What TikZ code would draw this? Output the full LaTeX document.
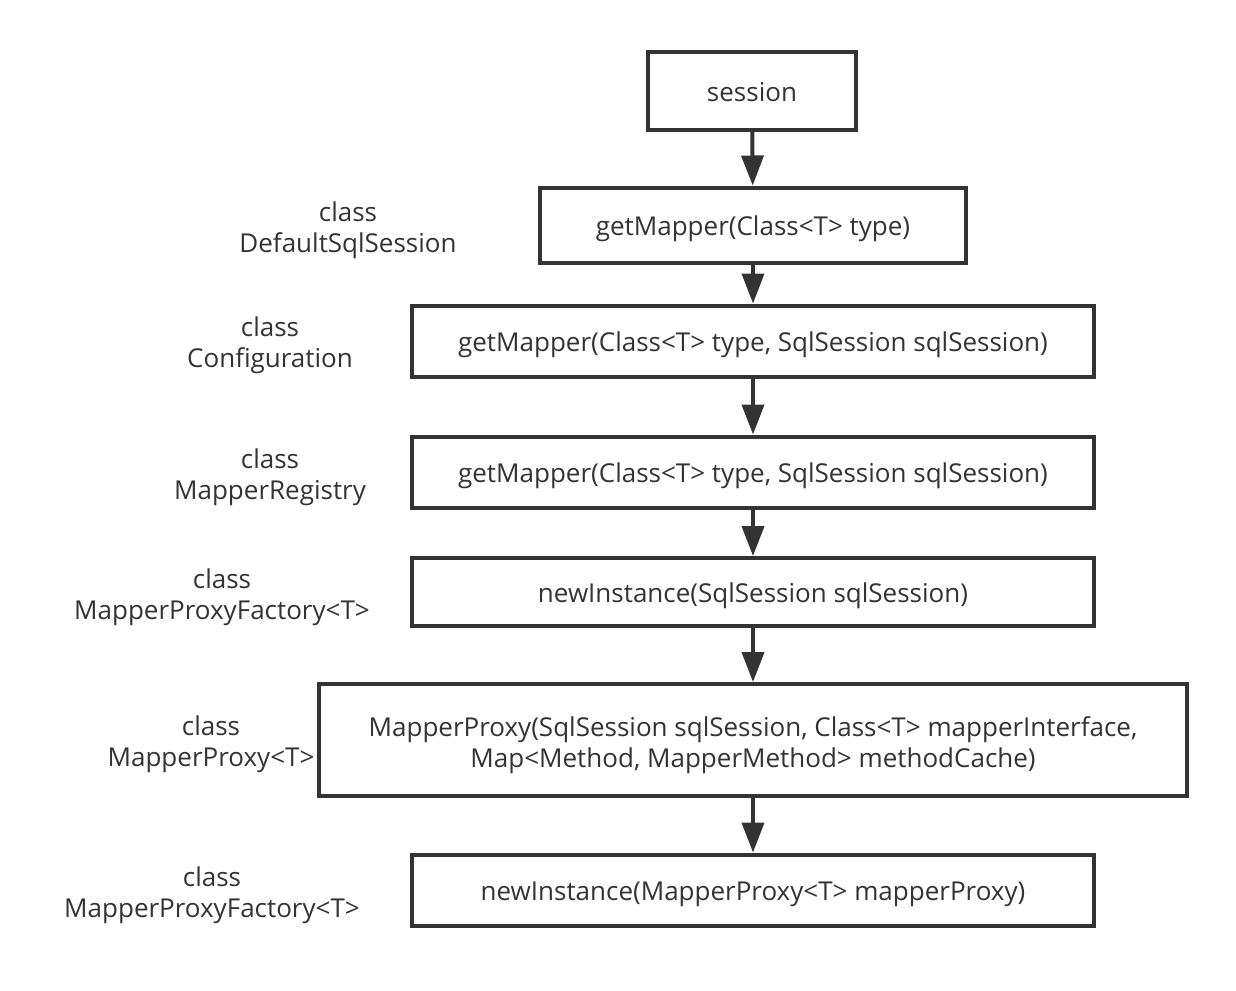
\documentclass[tikz,border=0pt]{standalone}
\usepackage{fontspec}
\setmainfont{Open Sans}
\usetikzlibrary{positioning,arrows.meta}
\definecolor{ink}{HTML}{333333}

\begin{document}
\begin{tikzpicture}[
  x=1pt, y=-1pt,
  every node/.style={font=\fontsize{26}{31}\selectfont, text=ink},
  call/.style={draw=ink, line width=4pt, inner sep=0pt, align=center,
    text height=24pt, text depth=4pt},
  owner/.style={align=center},
  flow/.style={draw=ink, line width=4pt, -{Triangle[length=30pt,width=22pt]}}
  ]
  \useasboundingbox (0,0) rectangle (1236,990);

  % call chain
  \node (sess) [call, minimum width=208pt, minimum height=78pt] at (752,91) {session};
  \node (gm1) [call, minimum width=426pt, minimum height=75pt] at (753,225) {getMapper(Class<T> type)};
  \node (gm2) [call, minimum width=682pt, minimum height=71pt] at (753,341) {getMapper(Class<T> type, SqlSession sqlSession)};
  \node (gm3) [call, minimum width=682pt, minimum height=71pt] at (753,472) {getMapper(Class<T> type, SqlSession sqlSession)};
  \node (ni1) [call, minimum width=682pt, minimum height=68pt] at (753,592) {newInstance(SqlSession sqlSession)};
  \node (mp) [call, text height=, text depth=, inner ysep=0pt, minimum width=868pt, minimum height=112pt] at (753,740)
     {\rule{0pt}{5pt}\\[-5pt]MapperProxy(SqlSession sqlSession, Class<T> mapperInterface,\\Map<Method, MapperMethod> methodCache)};
  \node (ni2) [call, minimum width=682pt, minimum height=71pt] at (753,890) {newInstance(MapperProxy<T> mapperProxy)};

  % owning classes
  \node (c1) [owner] at (348,230) {class\\DefaultSqlSession};
  \node (c2) [owner] at (270,345) {class\\Configuration};
  \node (c3) [owner] at (270,477) {class\\MapperRegistry};
  \node (c4) [owner] at (222,597) {class\\MapperProxyFactory<T>};
  \node (c5) [owner] at (211,744) {class\\MapperProxy<T>};
  \node (c6) [owner] at (212,895) {class\\MapperProxyFactory<T>};

  \draw [flow] (sess) -- (gm1);
  \draw [flow] (gm1) -- (gm2);
  \draw [flow] (gm2) -- (gm3);
  \draw [flow] (gm3) -- (ni1);
  \draw [flow] (ni1) -- (mp);
  \draw [flow] (mp) -- (ni2);
\end{tikzpicture}
\end{document}
